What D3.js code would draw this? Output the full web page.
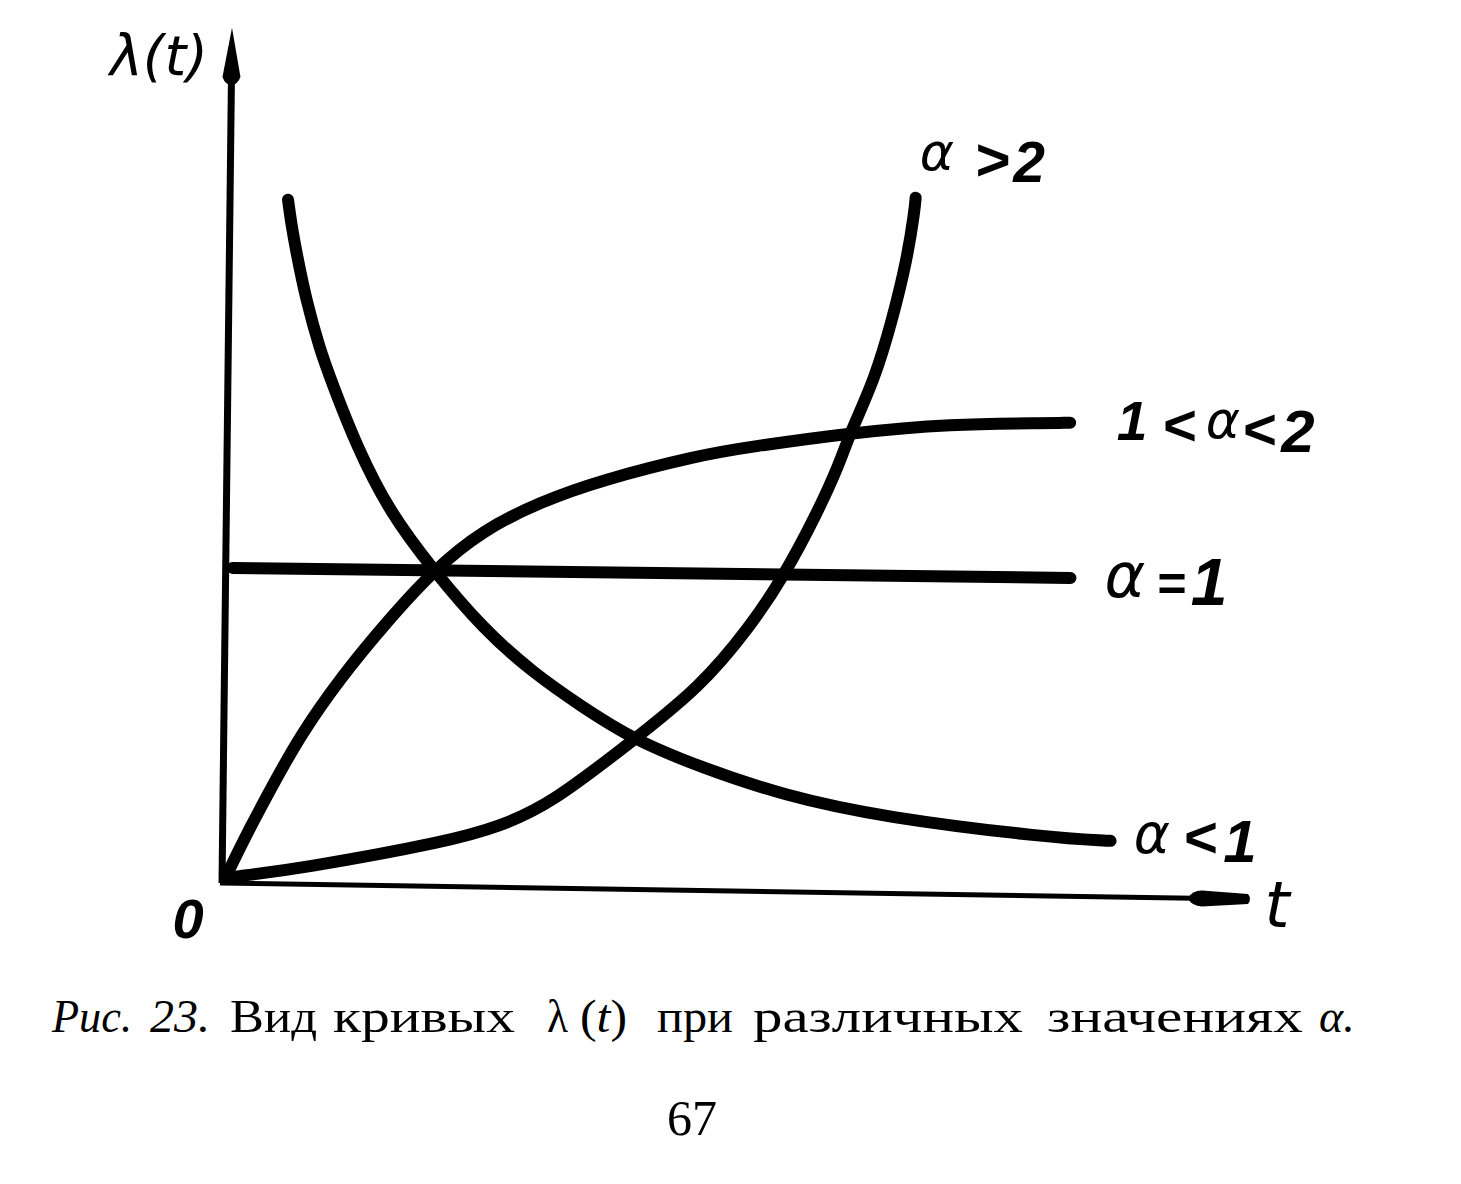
<!DOCTYPE html>
<html><head><meta charset="utf-8">
<script src="https://cdn.jsdelivr.net/npm/d3@7"></script>
<style>html,body{margin:0;padding:0;background:#fff}svg{display:block}</style>
</head><body>
<svg id="chart" width="1461" height="1184"></svg>
<script>
// ---- data (t, λ(t)) ----
const seriesNames = ["α<1", "α=1", "1<α<2", "α>2"];
const alphaLess1 = [[0.585,8.55],[0.62,8.25],[0.67,7.92],[0.776,7.30],[0.921,6.68],[1.035,6.30],[1.30,5.47],[1.64,4.65],[2.08,3.94],[2.58,3.22],[3.09,2.67],[3.59,2.25],[4.09,1.86],[4.77,1.52],[5.60,1.18],[6.60,0.92],[8.28,0.69],[8.85,0.66],[8.88,0.66]];
const alphaEq1 = [[0.07,3.94],[8.45,3.94]];
const alphaBetween1and2 = [[0.03,0.06],[0.05,0.11],[0.27,0.69],[0.54,1.33],[0.76,1.84],[1.16,2.58],[1.62,3.29],[2.08,3.94],[2.57,4.45],[3.14,4.81],[3.74,5.09],[4.73,5.42],[5.23,5.53],[6.23,5.72],[7.23,5.85],[8.23,5.87],[8.40,5.88],[8.43,5.88]];
const alphaGreater2 = [[0.03,0.06],[0.06,0.07],[0.78,0.19],[2.28,0.56],[2.77,0.75],[3.27,1.03],[4.09,1.84],[4.76,2.52],[5.25,3.28],[5.58,3.91],[5.91,4.71],[6.13,5.34],[6.23,5.72],[6.47,6.39],[6.64,7.14],[6.78,7.89],[6.85,8.50],[6.86,8.67]];
const xAxisEnd = [10.28, -0.046];
const yAxisTop = [0.006, 10.69];
const axisLabels = {y: "λ(t)", x: "t", origin: "0"};
const captionWords = [
  {s:"Рис.", it:true}, {s:"23.", it:true}, {s:"Вид"}, {s:"кривых"}, {s:"λ"},
  {s:"(t)", mixed:true}, {s:"при"}, {s:"различных"}, {s:"значениях"}
];
const pageNumber = "67";

// ---- layout ----
const svg = d3.select("#chart");
const x = d3.scaleLinear().domain([0, 10]).range([0, 1000]);
const y = d3.scaleLinear().domain([0, 10]).range([0, -800]);
// slight skew of the scanned drawing
const g = svg.append("g").attr("transform", "translate(222,883) matrix(1,0.012,-0.011,1,0,0)");

const smooth = d3.line().x(d => x(d[0])).y(d => y(d[1])).curve(d3.curveBasis);
const straight = d3.line().x(d => x(d[0])).y(d => y(d[1]));

// axes
g.append("path").attr("d", d3.line()([[x(0), y(0)], [x(yAxisTop[0]), y(10.05)]]))
  .attr("stroke", "#000").attr("stroke-width", 7).attr("fill", "none");
g.append("path").attr("d", d3.line()([[x(0)-2, y(0)], [x(xAxisEnd[0]) - 40, y(xAxisEnd[1])]]))
  .attr("stroke", "#000").attr("stroke-width", 5).attr("fill", "none");
// y arrow head
{
  const tx = x(yAxisTop[0]), ty = y(yAxisTop[1]), by = y(10.0);
  g.append("path").attr("d", `M${tx},${ty} L${tx+9},${by-6} Q${tx+6},${by+2} ${tx},${by+2} Q${tx-6},${by+2} ${tx-9},${by-6} Z`)
    .attr("fill", "#000");
}
// x arrow head
{
  const ex = x(xAxisEnd[0]), ey = y(xAxisEnd[1]);
  g.append("path").attr("d", `M${ex-62},${ey} Q${ex-58},${ey-8} ${ex-48},${ey-8} L${ex-2},${ey-5} Q${ex+2},${ey} ${ex-2},${ey+5} L${ex-48},${ey+8} Q${ex-58},${ey+8} ${ex-62},${ey} Z`)
    .attr("fill", "#000");
}

// curves
const allSeries = [alphaLess1, alphaEq1, alphaBetween1and2, alphaGreater2];
g.selectAll("path.curve").data(allSeries).enter().append("path")
  .attr("class", "curve")
  .attr("d", d => d.length === 2 ? straight(d) : smooth(d))
  .attr("fill", "none").attr("stroke", "#000").attr("stroke-width", 12)
  .attr("stroke-linecap", "round").attr("stroke-linejoin", "round");

// ---- hand-lettered labels ----
const handA = "'DejaVu Sans', sans-serif";
const handD = "'Liberation Sans', 'DejaVu Sans', sans-serif";
function glyphs(list) {
  list.forEach(gl => {
    svg.append("text").attr("x", gl.cx).attr("y", gl.by).attr("text-anchor", "middle")
      .attr("font-family", gl.bold ? handD : handA).attr("font-style", "italic")
      .attr("font-weight", gl.bold ? "bold" : "normal")
      .attr("font-size", gl.fs).attr("fill", "#000").text(gl.s);
  });
}
// α>2
glyphs([
  {s:"α", cx:937, by:170, fs:52},
  {s:">", cx:992, by:180, fs:60, bold:true},
  {s:"2", cx:1029, by:182, fs:57, bold:true}
]);
// 1<α<2
glyphs([
  {s:"1", cx:1132, by:440, fs:55, bold:true},
  {s:"<", cx:1179, by:445, fs:58, bold:true},
  {s:"α", cx:1223, by:438, fs:52},
  {s:"<", cx:1259, by:449, fs:58, bold:true},
  {s:"2", cx:1298, by:452, fs:60, bold:true}
]);
// α=1
glyphs([
  {s:"α", cx:1125, by:597, fs:62},
  {s:"=", cx:1171, by:601, fs:50, bold:true},
  {s:"1", cx:1209, by:605, fs:66, bold:true}
]);
// α<1
glyphs([
  {s:"α", cx:1152, by:853, fs:55},
  {s:"<", cx:1200, by:857, fs:58, bold:true},
  {s:"1", cx:1240, by:862, fs:60, bold:true}
]);
// axis labels
svg.append("text").attr("x", 110).attr("y", 75).attr("font-family", handA).attr("font-style", "italic")
  .attr("font-size", 56).attr("textLength", 98).attr("lengthAdjust", "spacingAndGlyphs").text(axisLabels.y);
svg.append("text").attr("x", 1277).attr("y", 927).attr("text-anchor", "middle").attr("font-family", handA)
  .attr("font-style", "italic").attr("font-size", 64).text(axisLabels.x);
svg.append("text").attr("x", 188).attr("y", 938).attr("text-anchor", "middle").attr("font-family", handD)
  .attr("font-style", "italic").attr("font-weight", "bold").attr("font-size", 56).text(axisLabels.origin);

// ---- caption ----
const serif = "'Liberation Serif', 'DejaVu Serif', serif";
const wordX = [52, 150, 230, 333, 547, 580, 657, 753, 1047];
const wordW = [80, 60, 87, 182, 21, 47, 76, 270, 256];
captionWords.forEach((w, i) => {
  const t = svg.append("text").attr("x", wordX[i]).attr("y", 1032)
    .attr("font-family", serif).attr("font-size", 46).attr("fill", "#000")
    .attr("textLength", wordW[i]).attr("lengthAdjust", "spacingAndGlyphs");
  if (w.it) t.attr("font-style", "italic").text(w.s);
  else if (w.mixed) { t.append("tspan").text("("); t.append("tspan").attr("font-style", "italic").text("t"); t.append("tspan").text(")"); }
  else t.text(w.s);
});
svg.append("text").attr("x", 1319).attr("y", 1032).attr("font-family", serif).attr("font-style", "italic")
  .attr("font-size", 46).text("α.");
svg.append("text").attr("x", 692).attr("y", 1135).attr("text-anchor", "middle")
  .attr("font-family", serif).attr("font-size", 50).text(pageNumber);
</script>
</body></html>
